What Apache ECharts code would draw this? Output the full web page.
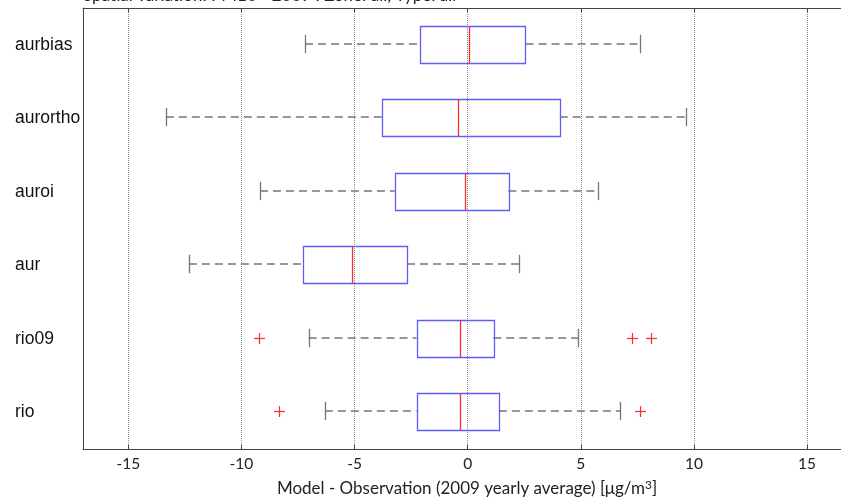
<!DOCTYPE html>
<html><head><meta charset="utf-8">
<script src="https://cdn.jsdelivr.net/npm/echarts@6/dist/echarts.min.js"></script>
<style>html,body{margin:0;padding:0;background:#fff;overflow:hidden}#c{width:841px;height:502px}</style>
</head><body><div id="c"></div>
<script>
const categories = ['aurbias','aurortho','auroi','aur','rio09','rio'];
const whiskerLow  = [-7.19, -13.34, -9.18, -12.32, -7.03, -6.31];
const q1          = [-2.09,  -3.79, -3.22,  -7.27, -2.26, -2.26];
const median      = [ 0.04,  -0.41, -0.12,  -5.10, -0.35, -0.35];
const q3          = [ 2.56,   4.07,  1.80,  -2.68,  1.13,  1.38];
const whiskerHigh = [ 7.62,   9.67,  5.74,   2.29,  4.88,  6.74];
const outlierCategory = ['rio09','rio09','rio09','rio','rio'];
const outlierValue    = [-9.22, 7.27, 8.10, -8.34, 7.63];
const xTicks = [-15,-10,-5,0,5,10,15];
const titleText = 'Spatial variation: PM10 - 2009 : Zone: all, Type: all';
const xAxisTitle = 'Model - Observation (2009 yearly average) [μg/m';

const boxData = categories.map((c,i)=>[i, whiskerLow[i], q1[i], median[i], q3[i], whiskerHigh[i]]);
const outData = outlierCategory.map((c,i)=>[categories.indexOf(c), outlierValue[i]]);

const RED = '#ff2a2a';
function renderBox(params, api){
  const cat = api.value(0);
  const lo = api.coord([api.value(1), cat]);
  const a = api.coord([api.value(2), cat]);
  const m = api.coord([api.value(3), cat]);
  const b = api.coord([api.value(4), cat]);
  const hi = api.coord([api.value(5), cat]);
  const band = api.size([0,1])[1];
  const bh = band*0.5, ch = band*0.25;
  const y = Math.round(lo[1]) - 1;
  const wStyle = {stroke:'#767676', lineWidth:1.3, lineDash:[8,5]};
  const cStyle = {stroke:'#767676', lineWidth:1.3};
  const r = v => Math.round(v)+0.5;
  const top = Math.round(y-bh/2)+0.5, h = Math.round(bh);
  return {type:'group', children:[
    {type:'line', shape:{x1:lo[0], y1:y, x2:a[0], y2:y}, style:wStyle},
    {type:'line', shape:{x1:b[0], y1:y, x2:hi[0], y2:y}, style:wStyle},
    {type:'line', shape:{x1:r(lo[0]), y1:y-ch/2, x2:r(lo[0]), y2:y+ch/2}, style:cStyle},
    {type:'line', shape:{x1:r(hi[0]), y1:y-ch/2, x2:r(hi[0]), y2:y+ch/2}, style:cStyle},
    {type:'rect', shape:{x:r(a[0]), y:top, width:Math.round(b[0]-a[0]), height:h}, style:{stroke:'#5c5cff', fill:null, lineWidth:1.3}},
    {type:'line', shape:{x1:r(m[0]), y1:top, x2:r(m[0]), y2:top+h}, style:{stroke:RED, lineWidth:1.3}}
  ]};
}
function renderOut(params, api){
  const p = api.coord([api.value(1), api.value(0)]);
  const s = 5.5, x = Math.round(p[0])+0.5, y = Math.round(p[1])-0.5;
  return {type:'group', children:[
    {type:'line', shape:{x1:x-s, y1:y, x2:x+s, y2:y}, style:{stroke:RED, lineWidth:1.2}},
    {type:'line', shape:{x1:x, y1:y-s, x2:x, y2:y+s}, style:{stroke:RED, lineWidth:1.2}}
  ]};
}

const chart = echarts.init(document.getElementById('c'), null, {renderer:'canvas'});
chart.setOption({
  animation:false,
  grid:{left:83, top:8, width:759, height:441},
  graphic:[
    {type:'text', left:83, top:-13, style:{text:titleText, font:'17px Lato', fill:'#222'}},
    {type:'text', x:467, y:489, style:{
      text:'{u|' + xAxisTitle + '}{s|3}{u|]}', align:'center', verticalAlign:'middle',
      rich:{u:{fontFamily:'Lato', fontSize:17, fill:'#222'}, s:{fontFamily:'Lato', fontSize:12, fill:'#222', verticalAlign:'top', padding:[0,0,8,0]}}
    }}
  ],
  xAxis:[{
    type:'value', min:-17, max:16.5, position:'bottom',
    axisLine:{show:true, onZero:false, lineStyle:{color:'#444', width:1}},
    axisTick:{show:true, inside:true, length:4, customValues:xTicks, lineStyle:{color:'#444'}},
    axisLabel:{customValues:xTicks, fontFamily:'Lato', fontSize:15.5, color:'#222', margin:7},
    splitLine:{show:true, lineStyle:{color:'#8a8a8a', type:[1,1], width:1}}
  },{
    type:'value', min:-17, max:16.5, position:'top',
    axisLine:{show:true, onZero:false, lineStyle:{color:'#444', width:1}},
    axisTick:{show:true, inside:true, length:4, customValues:xTicks, lineStyle:{color:'#444'}},
    axisLabel:{show:false}, splitLine:{show:false}
  }],
  yAxis:{
    type:'category', data:categories, inverse:true,
    axisLine:{show:true, onZero:false, lineStyle:{color:'#444'}},
    axisTick:{show:false},
    axisLabel:{align:'left', margin:68, fontFamily:'Liberation Sans', fontSize:17.5, color:'#111', padding:[0,0,7,0]},
    splitLine:{show:false}
  },
  series:[
    {type:'custom', renderItem:renderBox, data:boxData, encode:{x:[1,2,3,4,5], y:0}, clip:false, z:5},
    {type:'custom', renderItem:renderOut, data:outData, encode:{x:1, y:0}, clip:false, z:5}
  ]
});
</script></body></html>
